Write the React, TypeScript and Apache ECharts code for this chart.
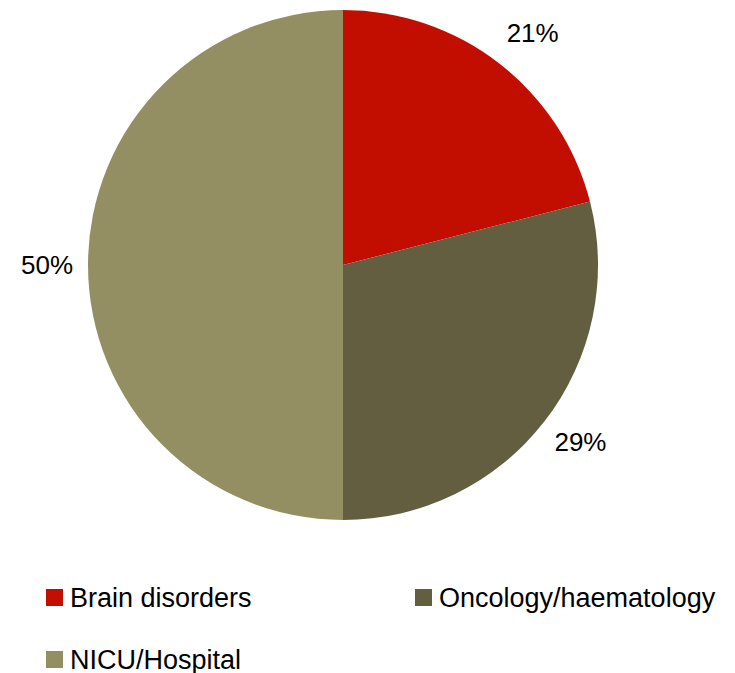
import React, { useEffect, useRef } from "react";
import * as echarts from "echarts";

const categories = ["Brain disorders", "Oncology/haematology", "NICU/Hospital"];
const values = [21, 29, 50];
const colors = ["#C20E00", "#635E40", "#948F62"];

export default function App() {
  const ref = useRef<HTMLDivElement>(null);
  useEffect(() => {
    if (!ref.current) return;
    const chart = echarts.init(ref.current, undefined, { renderer: "svg" });
    const cx = 343, cy = 265, R = 255, labelR = 298;
    const labelNudge = [[7, 3], [2, -6], [2, 0]];
    const total = values.reduce((a, b) => a + b, 0);
    const mids: number[] = [];
    let acc = 0;
    values.forEach((v) => {
      const mid = 90 - ((acc + v / 2) / total) * 360;
      mids.push(mid);
      acc += v;
    });
    const font = "'Liberation Sans', Arial, sans-serif";
    const legendPos = [
      { left: 46, top: 584 },
      { left: 415, top: 584 },
      { left: 46, top: 646 },
    ];
    chart.setOption({
      animation: false,
      color: colors,
      legend: categories.map((c, i) => ({
        data: [c],
        left: legendPos[i].left,
        top: legendPos[i].top,
        icon: "rect",
        itemWidth: 17,
        itemHeight: 17,
        itemGap: 0,
        padding: 0,
        textStyle: { fontFamily: font, fontSize: 27, color: "#000", padding: [0, 0, 0, 2] },
      })),
      series: [
        {
          type: "pie",
          center: [cx, cy],
          radius: [0, R],
          startAngle: 90,
          clockwise: true,
          data: categories.map((c, i) => ({ name: c, value: values[i] })),
          label: {
            show: true,
            position: "outside",
            formatter: (p: any) => `${p.value}%`,
            fontFamily: font,
            fontSize: 26,
            color: "#000",
            overflow: "none",
          },
          labelLine: { show: false },
          labelLayout: (p: any) => {
            const a = (mids[p.dataIndex] * Math.PI) / 180;
            const n = labelNudge[p.dataIndex];
            return {
              x: cx + labelR * Math.cos(a) + n[0],
              y: cy - labelR * Math.sin(a) + n[1],
              align: "center",
              verticalAlign: "middle",
            };
          },
          emphasis: { disabled: true },
        },
      ],
    });
    return () => chart.dispose();
  }, []);
  return (
    <div
      ref={ref}
      style={{ position: "fixed", left: 0, top: 0, width: 735, height: 673, background: "#fff" }}
    />
  );
}
